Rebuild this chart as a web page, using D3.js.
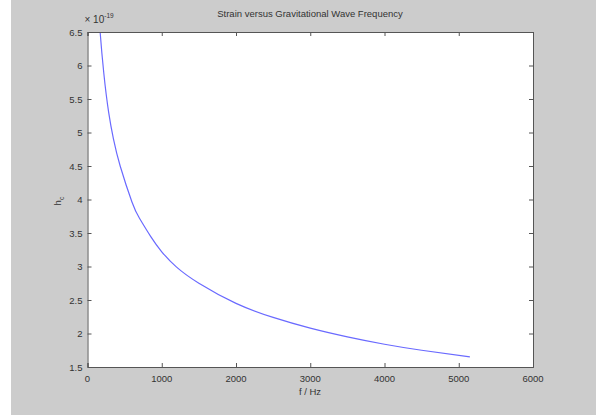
<!DOCTYPE html>
<html>
<head>
<meta charset="utf-8">
<script src="https://cdn.jsdelivr.net/npm/d3@7"></script>
<style>
  body { margin: 0; background: #fff; }
  text { font-family: "Liberation Sans", Arial, sans-serif; fill: #333; }
</style>
</head>
<body>
<div id="chart"></div>
<script>
// values (f in Hz, strain in units of 1e-19)
var freq   = [150, 170, 220, 285, 350, 440, 600, 700, 850, 1000, 1200, 1500, 2000, 2500, 3000, 3500, 4000, 4500, 5150];
var strain = [6.85, 6.5, 5.88, 5.3, 4.9, 4.5, 3.96, 3.72, 3.45, 3.22, 2.99, 2.75, 2.45, 2.24, 2.08, 1.95, 1.84, 1.75, 1.65];
var xTicks = [0, 1000, 2000, 3000, 4000, 5000, 6000];
var yTicks = [1.5, 2, 2.5, 3, 3.5, 4, 4.5, 5, 5.5, 6, 6.5];

var width = 596, height = 415;
var plotLeft = 87.5, plotRight = 533, plotTop = 32, plotBottom = 367;

var svg = d3.select("#chart")
            .append("svg")
            .attr("width", width)
            .attr("height", height);

// grey figure background
svg.append("rect")
   .attr("x", 11)
   .attr("y", 0)
   .attr("width", width - 11)
   .attr("height", height)
   .attr("fill", "#cccccc");

// white axes area
svg.append("rect")
   .attr("x", plotLeft)
   .attr("y", plotTop)
   .attr("width", plotRight - plotLeft)
   .attr("height", plotBottom - plotTop)
   .attr("fill", "white");

var x = d3.scaleLinear().domain([0, 6000]).range([plotLeft, plotRight]);
var y = d3.scaleLinear().domain([1.5, 6.5]).range([plotBottom, plotTop]);

svg.append("clipPath")
   .attr("id", "clip")
   .append("rect")
   .attr("x", plotLeft)
   .attr("y", plotTop)
   .attr("width", plotRight - plotLeft)
   .attr("height", plotBottom - plotTop);

//Curve
var line = d3.line()
             .x(function(d, i) { return x(freq[i]); })
             .y(function(d, i) { return y(strain[i]); })
             .curve(d3.curveNatural);

svg.append("path")
   .datum(freq)
   .attr("clip-path", "url(#clip)")
   .attr("d", line)
   .attr("fill", "none")
   .attr("stroke", "#6a6aff")
   .attr("stroke-width", 1.2);

//Axes (ticks pointing inward on all sides)
var axisColor = "#555";

svg.append("g")
   .attr("transform", "translate(0," + plotBottom + ")")
   .call(d3.axisTop(x).tickValues(xTicks).tickSize(4).tickFormat(""));
svg.append("g")
   .attr("transform", "translate(0," + plotTop + ")")
   .call(d3.axisBottom(x).tickValues(xTicks).tickSize(4).tickFormat(""));
svg.append("g")
   .attr("transform", "translate(" + plotLeft + ",0)")
   .call(d3.axisRight(y).tickValues(yTicks).tickSize(4).tickFormat(""));
svg.append("g")
   .attr("transform", "translate(" + plotRight + ",0)")
   .call(d3.axisLeft(y).tickValues(yTicks).tickSize(4).tickFormat(""));

svg.selectAll(".domain").attr("stroke", axisColor);
svg.selectAll(".tick line").attr("stroke", axisColor);

// tick labels
svg.selectAll(".xlab")
   .data(xTicks)
   .enter()
   .append("text")
   .attr("x", function(d) { return x(d); })
   .attr("y", plotBottom + 15)
   .attr("text-anchor", "middle")
   .attr("font-size", 9.5)
   .text(function(d) { return d; });

svg.selectAll(".ylab")
   .data(yTicks)
   .enter()
   .append("text")
   .attr("x", plotLeft - 5)
   .attr("y", function(d) { return y(d) + 3.5; })
   .attr("text-anchor", "end")
   .attr("font-size", 9.5)
   .text(function(d) { return d; });

// exponent
var ex = svg.append("text")
            .attr("x", plotLeft - 3)
            .attr("y", plotTop - 9)
            .attr("font-size", 10);
ex.append("tspan").text("\u00d7 10");
ex.append("tspan").attr("dy", -5).attr("font-size", 6.5).text("-19");

// title
svg.append("text")
   .attr("x", 310)
   .attr("y", 17)
   .attr("text-anchor", "middle")
   .attr("font-size", 9.5)
   .text("Strain versus Gravitational Wave Frequency");

// x label
svg.append("text")
   .attr("x", 310)
   .attr("y", plotBottom + 28)
   .attr("text-anchor", "middle")
   .attr("font-size", 9.5)
   .text("f / Hz");

// y label
var yl = svg.append("text")
            .attr("transform", "translate(61,201) rotate(-90)")
            .attr("text-anchor", "middle")
            .attr("font-size", 9.5);
yl.append("tspan").text("h");
yl.append("tspan").attr("dy", 3).attr("font-size", 7).text("c");
</script>
</body>
</html>
